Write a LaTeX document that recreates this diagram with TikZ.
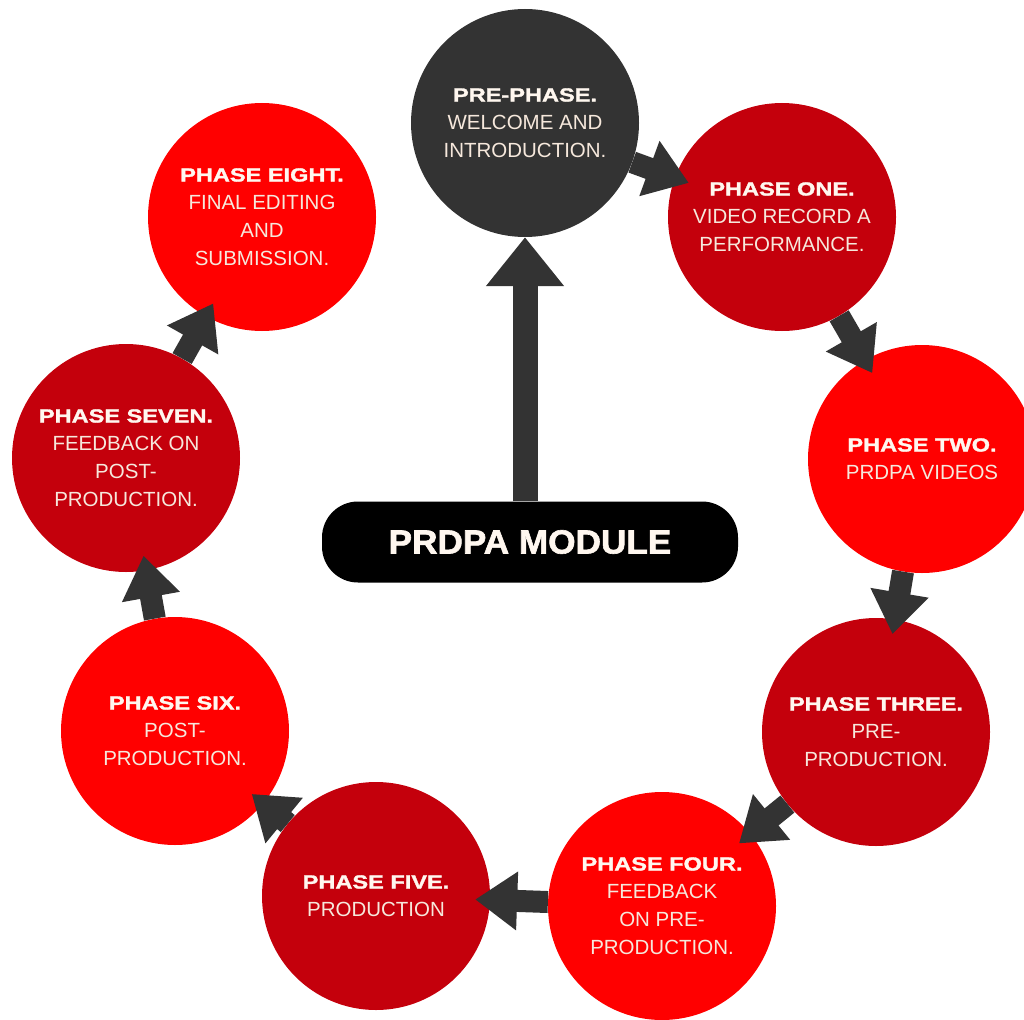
\documentclass[tikz,border=0pt]{standalone}
\usepackage{fontspec}
\setmainfont{Liberation Sans}
\newfontfamily\headfont{Liberation Sans}[FakeStretch=1.24,FakeBold=1.6]
\newfontfamily\modfont{Liberation Sans}[FakeStretch=1.05,FakeBold=1.8]
\usetikzlibrary{arrows.meta}

\definecolor{darkred}{HTML}{C4000C}
\definecolor{brightred}{HTML}{FF0000}
\definecolor{charcoal}{HTML}{333333}
\definecolor{headtext}{HTML}{FFF7EF}
\definecolor{bodytext}{HTML}{F6E8DC}

\newcommand{\phasehead}[1]{{\headfont\bfseries\fontsize{19}{28}\selectfont\color{headtext}#1}}

\tikzset{
  phase/.style={circle, minimum size=228pt, inner sep=0pt, align=center,
    text=bodytext, font=\fontsize{20.5}{28}\selectfont},
  darkphase/.style={phase, fill=darkred},
  brightphase/.style={phase, fill=brightred},
  startphase/.style={phase, fill=charcoal},
  modulebox/.style={rectangle, rounded corners=36pt, fill=black,
    minimum width=416pt, minimum height=81pt, text=headtext,
    font=\modfont\bfseries\fontsize{33.5}{40}\selectfont},
  flow/.style={draw=charcoal, line width=22pt,
    -{Triangle[width=56pt,length=42pt]}, shorten >=-15pt},
  bigflow/.style={draw=charcoal, line width=25pt,
    -{Triangle[width=75pt,length=49pt]}}
}

\begin{document}
\begin{tikzpicture}[x=1pt,y=-1pt]
  \useasboundingbox (0,0) rectangle (1024,1019);

  % phase circles
  \node[startphase]  (pre)   at (525,123) {\phasehead{PRE-PHASE.}\\WELCOME AND\\INTRODUCTION.};
  \node[darkphase]   (one)   at (782,217) {\phasehead{PHASE ONE.}\\VIDEO RECORD A\\PERFORMANCE.};
  \node[brightphase] (two)   at (922,459) {\phasehead{PHASE TWO.}\\PRDPA VIDEOS};
  \node[darkphase]   (three) at (876,732) {\phasehead{PHASE THREE.}\\PRE-\\PRODUCTION.};
  \node[brightphase] (four)  at (662,906) {\phasehead{PHASE FOUR.}\\FEEDBACK\\ON PRE-\\PRODUCTION.};
  \node[darkphase]   (five)  at (376,896) {\phasehead{PHASE FIVE.}\\PRODUCTION};
  \node[brightphase] (six)   at (175,731) {\phasehead{PHASE SIX.}\\POST-\\PRODUCTION.};
  \node[darkphase]   (seven) at (126,458) {\phasehead{PHASE SEVEN.}\\FEEDBACK ON\\POST-\\PRODUCTION.};
  \node[brightphase] (eight) at (262,217) {\phasehead{PHASE EIGHT.}\\FINAL EDITING\\AND\\SUBMISSION.};

  % central module label
  \node[modulebox] (module) at (530,542) {PRDPA MODULE};

  % cycle of arrows
  \draw[flow] (pre)   -- (one);
  \draw[flow] (one)   -- (two);
  \draw[flow] (two)   -- (three);
  \draw[flow] (three) -- (four);
  \draw[flow] (four)  -- (five);
  \draw[flow] (five)  -- (six);
  \draw[flow] (six)   -- (seven);
  \draw[flow] (seven) -- (eight);

  % module to pre-phase
  \draw[bigflow] (pre |- module.north) -- (pre.south);
\end{tikzpicture}
\end{document}
